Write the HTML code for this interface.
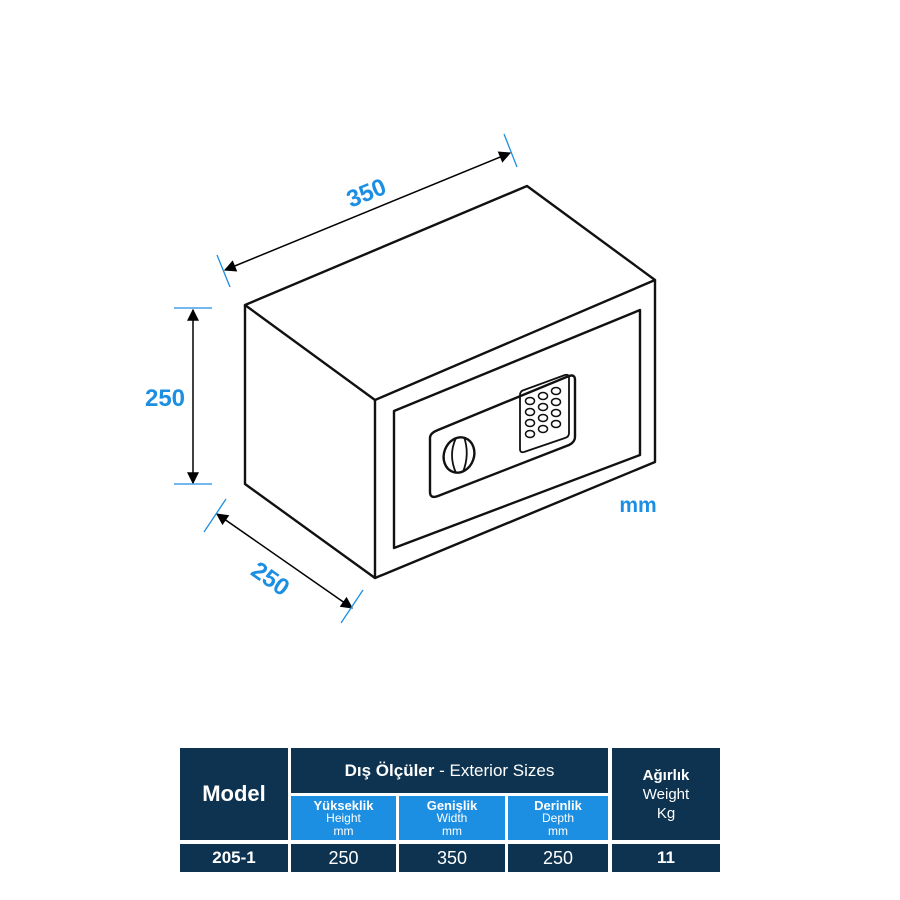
<!DOCTYPE html>
<html><head><meta charset="utf-8"><style>
body{margin:0;background:#fff;width:900px;height:900px;overflow:hidden;font-family:"Liberation Sans",sans-serif}
.c{position:absolute;background:#0d3350;color:#fff;display:flex;align-items:center;justify-content:center;text-align:center;box-sizing:border-box}
.b{background:#1c8fe3;flex-direction:column;font-size:12px;line-height:13px}
.b b{font-size:13px}
</style></head><body>
<svg width="900" height="900" style="position:absolute;left:0;top:0">
<defs>
<marker id="m" viewBox="0 0 10 10" refX="9" refY="5" markerWidth="14" markerHeight="12" orient="auto-start-reverse" markerUnits="userSpaceOnUse"><path d="M0,0 L10,5 L0,10z" fill="#000"/></marker></defs>
<g fill="none" stroke="#111" stroke-width="2.4" stroke-linejoin="round">
<path d="M245,305 L527,186 L655,280 L375,400 Z"/>
<path d="M245,305 L245,484 L375,578 L375,400"/>
<path d="M375,578 L655,462 L655,280"/>
<path d="M394,411 L640,310 L640,455 L394,548 Z"/>
<path d="M438,430 L569,376 Q575,374 575,380 L575,437 Q575,442 569,445 L438,496 Q430,499 430,492 L430,438 Q430,433 438,430 Z"/>
<path d="M524,390 L565,375 Q569,374 569,378 L569,433 Q569,437 565,438 L524,452 Q520,453 520,449 L520,395 Q520,391 524,390 Z" stroke-width="1.8"/>
<ellipse cx="459" cy="455" rx="15" ry="18" transform="rotate(20 459 455)"/>
<path d="M456,438 Q448,455 456,473" stroke-width="1.8"/><path d="M464,437 Q470,454 463,472" stroke-width="1.8"/>
</g>
<g fill="none" stroke="#111" stroke-width="1.5">
<ellipse cx="530" cy="401" rx="4.5" ry="3.5"/><ellipse cx="543" cy="396" rx="4.5" ry="3.5"/><ellipse cx="556" cy="391" rx="4.5" ry="3.5"/>
<ellipse cx="530" cy="412" rx="4.5" ry="3.5"/><ellipse cx="543" cy="407" rx="4.5" ry="3.5"/><ellipse cx="556" cy="402" rx="4.5" ry="3.5"/>
<ellipse cx="530" cy="423" rx="4.5" ry="3.5"/><ellipse cx="543" cy="418" rx="4.5" ry="3.5"/><ellipse cx="556" cy="413" rx="4.5" ry="3.5"/>
<ellipse cx="530" cy="434" rx="4.5" ry="3.5"/><ellipse cx="543" cy="429" rx="4.5" ry="3.5"/><ellipse cx="556" cy="424" rx="4.5" ry="3.5"/>
</g>
<g stroke="#000" stroke-width="1.5">
<line x1="225" y1="270" x2="510" y2="153" marker-start="url(#m)" marker-end="url(#m)"/>
<line x1="193" y1="310" x2="193" y2="483" marker-start="url(#m)" marker-end="url(#m)"/>
<line x1="217" y1="514" x2="352" y2="608" marker-start="url(#m)" marker-end="url(#m)"/>
</g>
<g stroke="#1c8fe3" stroke-width="1.3">
<line x1="217" y1="255" x2="230" y2="287"/><line x1="504" y1="134" x2="517" y2="167"/>
<line x1="174" y1="308" x2="212" y2="308"/><line x1="174" y1="484" x2="212" y2="484"/>
<line x1="204" y1="532" x2="226" y2="499"/><line x1="341" y1="623" x2="363" y2="590"/>
</g>
<g fill="#1c8fe3" font-family="Liberation Sans,sans-serif" font-weight="bold" font-size="24">
<text x="366" y="201" text-anchor="middle" transform="rotate(-22 366 192)">350</text>
<text x="165" y="406" text-anchor="middle">250</text>
<text x="271" y="587" text-anchor="middle" transform="rotate(35 271 578)">250</text>
<text x="638" y="512" text-anchor="middle" font-size="21">mm</text>
</g>
</svg>
<div class="c" style="left:180px;top:748px;width:108px;height:92px;font-size:22px;font-weight:bold">Model</div>
<div class="c" style="left:291px;top:748px;width:317px;height:45px;font-size:17px"><b>Dış Ölçüler</b>&nbsp;- Exterior Sizes</div>
<div class="c b" style="left:291px;top:796px;width:105px;height:44px"><b>Yükseklik</b>Height<br>mm</div>
<div class="c b" style="left:399px;top:796px;width:106px;height:44px"><b>Genişlik</b>Width<br>mm</div>
<div class="c b" style="left:508px;top:796px;width:100px;height:44px"><b>Derinlik</b>Depth<br>mm</div>
<div class="c" style="left:612px;top:748px;width:108px;height:92px;flex-direction:column;font-size:15px;line-height:19px"><b>Ağırlık</b>Weight<br>Kg</div>
<div class="c" style="left:180px;top:844px;width:108px;height:28px;font-size:17px;font-weight:bold">205-1</div>
<div class="c" style="left:291px;top:844px;width:105px;height:28px;font-size:18px">250</div>
<div class="c" style="left:399px;top:844px;width:106px;height:28px;font-size:18px">350</div>
<div class="c" style="left:508px;top:844px;width:100px;height:28px;font-size:18px">250</div>
<div class="c" style="left:612px;top:844px;width:108px;height:28px;font-size:17px;font-weight:bold">11</div>
</body></html>
